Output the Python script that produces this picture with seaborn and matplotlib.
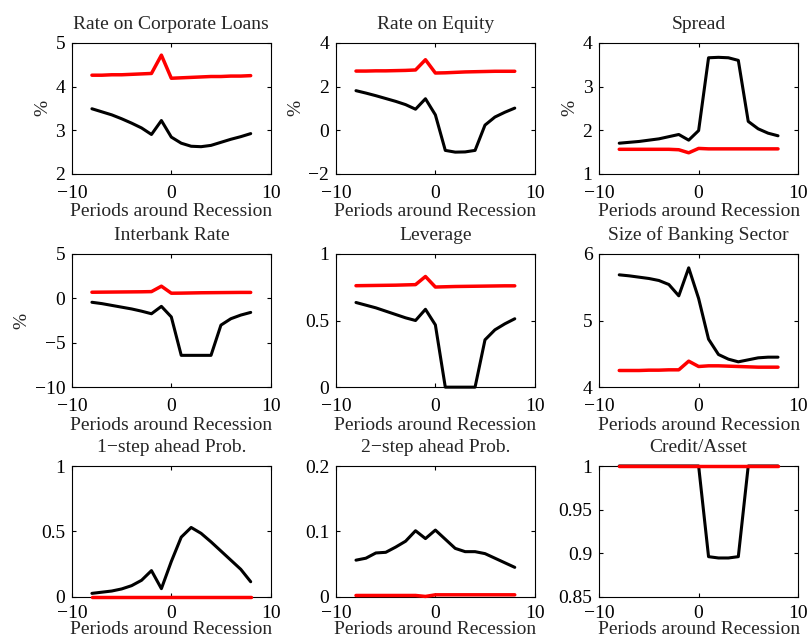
import numpy as np
import pandas as pd
import matplotlib
matplotlib.use("Agg")
import matplotlib.pyplot as plt
import seaborn as sns

# Periods around the recession date
periods = list(range(-8, 9))

# Black: recession episodes, red: normal times
corp_loans_rec = [3.49, 3.42, 3.35, 3.26, 3.16, 3.05, 2.90, 3.22, 2.84, 2.70, 2.63, 2.62, 2.65, 2.72, 2.79, 2.85, 2.92]
corp_loans_norm = [4.26, 4.26, 4.27, 4.27, 4.28, 4.29, 4.30, 4.72, 4.19, 4.20, 4.21, 4.22, 4.23, 4.23, 4.24, 4.24, 4.25]

equity_rec = [1.81, 1.70, 1.58, 1.45, 1.32, 1.17, 0.96, 1.44, 0.70, -0.93, -1.01, -1.00, -0.93, 0.23, 0.60, 0.82, 1.01]
equity_norm = [2.71, 2.71, 2.72, 2.72, 2.73, 2.74, 2.76, 3.23, 2.62, 2.63, 2.65, 2.67, 2.68, 2.69, 2.70, 2.70, 2.70]

spread_rec = [1.70, 1.72, 1.74, 1.77, 1.80, 1.85, 1.90, 1.77, 1.99, 3.66, 3.67, 3.66, 3.60, 2.20, 2.03, 1.93, 1.87]
spread_norm = [1.56, 1.56, 1.56, 1.56, 1.56, 1.56, 1.55, 1.48, 1.58, 1.57, 1.57, 1.57, 1.57, 1.57, 1.57, 1.57, 1.57]

interbank_rec = [-0.45, -0.60, -0.80, -1.00, -1.20, -1.45, -1.74, -0.91, -2.10, -6.42, -6.42, -6.42, -6.42, -3.02, -2.30, -1.89, -1.59]
interbank_norm = [0.68, 0.69, 0.70, 0.71, 0.72, 0.73, 0.75, 1.36, 0.57, 0.58, 0.60, 0.62, 0.63, 0.64, 0.65, 0.66, 0.66]

leverage_rec = [0.635, 0.615, 0.595, 0.570, 0.545, 0.520, 0.500, 0.584, 0.467, 0.0, 0.0, 0.0, 0.0, 0.355, 0.430, 0.475, 0.513]
leverage_norm = [0.761, 0.762, 0.763, 0.764, 0.765, 0.767, 0.769, 0.830, 0.751, 0.753, 0.755, 0.756, 0.757, 0.758, 0.759, 0.760, 0.760]

size_rec = [5.685, 5.67, 5.65, 5.63, 5.60, 5.54, 5.37, 5.79, 5.33, 4.72, 4.49, 4.42, 4.38, 4.41, 4.44, 4.45, 4.45]
size_norm = [4.25, 4.25, 4.25, 4.255, 4.255, 4.26, 4.26, 4.39, 4.31, 4.32, 4.32, 4.315, 4.31, 4.305, 4.30, 4.30, 4.30]

prob1_rec = [0.026, 0.035, 0.044, 0.060, 0.085, 0.126, 0.200, 0.062, 0.270, 0.456, 0.530, 0.485, 0.420, 0.350, 0.280, 0.210, 0.115]
prob1_norm = [0.001] * 17

prob2_rec = [0.056, 0.059, 0.067, 0.068, 0.076, 0.085, 0.101, 0.089, 0.102, 0.088, 0.074, 0.069, 0.069, 0.066, 0.059, 0.052, 0.045]
prob2_norm = [0.002, 0.002, 0.002, 0.002, 0.002, 0.002, 0.002, 0.0005, 0.003, 0.003, 0.003, 0.003, 0.003, 0.003, 0.003, 0.003, 0.003]

credit_rec = [1.0, 1.0, 1.0, 1.0, 1.0, 1.0, 1.0, 1.0, 1.0, 0.896, 0.8945, 0.8945, 0.896, 1.0, 1.0, 1.0, 1.0]
credit_norm = [1.0] * 17

titles = ["Rate on Corporate Loans", "Rate on Equity", "Spread",
          "Interbank Rate", "Leverage", "Size of Banking Sector",
          "1\u2212step ahead Prob.", "2\u2212step ahead Prob.", "Credit/Asset"]
series = [(corp_loans_rec, corp_loans_norm), (equity_rec, equity_norm), (spread_rec, spread_norm),
          (interbank_rec, interbank_norm), (leverage_rec, leverage_norm), (size_rec, size_norm),
          (prob1_rec, prob1_norm), (prob2_rec, prob2_norm), (credit_rec, credit_norm)]
ylims = [(2, 5), (-2, 4), (1, 4), (-10, 5), (0, 1), (4, 6), (0, 1), (0, 0.2), (0.85, 1)]
yticks = [[2, 3, 4, 5], [-2, 0, 2, 4], [1, 2, 3, 4], [-10, -5, 0, 5], [0, 0.5, 1],
          [4, 5, 6], [0, 0.5, 1], [0, 0.1, 0.2], [0.85, 0.9, 0.95, 1]]
ytick_labels = [["2", "3", "4", "5"], ["\u22122", "0", "2", "4"], ["1", "2", "3", "4"],
                ["\u221210", "\u22125", "0", "5"], ["0", "0.5", "1"], ["4", "5", "6"],
                ["0", "0.5", "1"], ["0", "0.1", "0.2"], ["0.85", "0.9", "0.95", "1"]]
percent_panels = {0, 1, 2, 3}

sns.set_theme(style="ticks")
plt.rcParams["font.family"] = ["Liberation Serif", "DejaVu Serif"]
plt.rcParams.update({
    "xtick.direction": "in", "ytick.direction": "in",
    "xtick.top": True, "ytick.right": True,
    "xtick.major.size": 3, "ytick.major.size": 3,
    "axes.linewidth": 0.8, "axes.edgecolor": "black",
    "font.size": 14,
})

fig = plt.figure(figsize=(8.10, 6.41), dpi=100)

lefts = [0.089, 0.415, 0.740]
width = 0.245
rows = [(0.729, 0.204), (0.396, 0.208), (0.069, 0.204)]
fs = 14

for i in range(9):
    r, c = divmod(i, 3)
    bottom, height = rows[r]
    ax = fig.add_axes([lefts[c], bottom, width, height])
    rec, norm = series[i]
    df = pd.DataFrame({"period": periods, "recession": rec, "normal": norm})
    sns.lineplot(data=df, x="period", y="recession", color="black", linewidth=2.2, ax=ax)
    sns.lineplot(data=df, x="period", y="normal", color="#ff0000", linewidth=2.5, ax=ax)
    black_line, red_line = ax.lines[0], ax.lines[1]
    black_line.set_clip_on(False)
    red_line.set_clip_on(False)
    black_line.set_zorder(3)
    red_line.set_zorder(4)
    ax.set_xlim(-10, 10)
    ax.set_xticks([-10, 0, 10])
    ax.set_xticklabels(["\u221210", "0", "10"])
    ax.set_ylim(*ylims[i])
    ax.set_yticks(yticks[i])
    ax.set_yticklabels(ytick_labels[i])
    # bottom row sits tight against the figure edge
    xpad, lpad = (6, -1) if r == 2 else (8, 1)
    ax.tick_params(axis="x", labelsize=fs, pad=xpad, colors="black", width=0.8)
    ax.tick_params(axis="y", labelsize=fs, pad=5, colors="black", width=0.8)
    ax.set_xlabel("Periods around Recession", fontsize=fs, labelpad=lpad)
    ax.set_ylabel("%" if i in percent_panels else "", fontsize=fs, labelpad=3)
    ax.set_title(titles[i], fontsize=fs, pad=10)
    for s in ax.spines.values():
        s.set_visible(True)
        s.set_color("black")

fig.savefig("out.png", dpi=100, facecolor="white")
